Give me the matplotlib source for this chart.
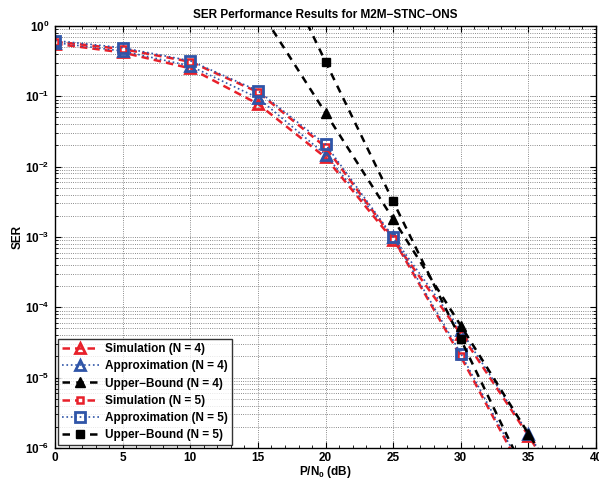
import numpy as np
import matplotlib
matplotlib.use('Agg')
import matplotlib.pyplot as plt
from matplotlib.ticker import FixedLocator, FuncFormatter, LogLocator, NullFormatter

plt.rcParams['font.family'] = ['Liberation Sans', 'DejaVu Sans']
plt.rcParams['font.weight'] = 'bold'
plt.rcParams['mathtext.fontset'] = 'custom'
plt.rcParams['mathtext.rm'] = 'Liberation Sans:bold'
plt.rcParams['mathtext.it'] = 'Liberation Sans:bold'
plt.rcParams['mathtext.bf'] = 'Liberation Sans:bold'

# P/N0 in dB
snr = [0, 5, 10, 15, 20, 25, 30, 35, 40]

sim_n4 = [0.56, 0.42, 0.25, 0.078, 0.0135, 9.0e-4, 4.2e-5, 1.5e-6, 4.5e-8]
approx_n4 = [0.58, 0.44, 0.27, 0.095, 0.0148, 1.0e-3, 4.7e-5, 1.6e-6, 5.0e-8]
upper_n4 = [np.nan, np.nan, np.nan, 1.86, 0.058, 1.8e-3, 5.5e-5, 1.6e-6, 4.8e-8]
sim_n5 = [0.60, 0.47, 0.31, 0.115, 0.019, 9.5e-4, 2.0e-5, 3.2e-7, np.nan]
approx_n5 = [0.62, 0.49, 0.32, 0.12, 0.0207, 1.0e-3, 2.2e-5, 3.5e-7, np.nan]
upper_n5 = [np.nan, np.nan, np.nan, 31.0, 0.31, 3.2e-3, 3.5e-5, 3.5e-7, np.nan]

red = '#e8202a'
blue = '#2f55a8'

fig = plt.figure(figsize=(5.99, 4.83), dpi=100)
ax = fig.add_axes([0.092, 0.0725, 0.903, 0.8737])

ax.plot(snr, sim_n4, color=red, ls='--', dashes=(3, 2), lw=1.8, marker='^', ms=7,
        mfc='none', mew=2, label='Simulation (N = 4)')
ax.plot(snr, approx_n4, color=blue, ls=':', lw=1.2, marker='^', ms=7,
        mfc='none', mew=2, label='Approximation (N = 4)')
ax.plot(snr, upper_n4, color='black', ls='--', dashes=(3, 2.5), lw=1.8, marker='^', ms=7,
        mfc='black', label='Upper\u2212Bound (N = 4)')
ax.plot(snr, sim_n5, color=red, ls='--', dashes=(3, 2), lw=1.8, marker='s', ms=5,
        mfc='white', mew=1.8, label='Simulation (N = 5)')
ax.plot(snr, approx_n5, color=blue, ls=':', lw=1.2, marker='s', ms=7,
        mfc='none', mew=2, label='Approximation (N = 5)')
ax.plot(snr, upper_n5, color='black', ls='--', dashes=(3, 2.5), lw=1.8, marker='s', ms=6,
        mfc='black', label='Upper\u2212Bound (N = 5)')

ax.set_yscale('log')
ax.set_xlim(0, 40)
ax.set_ylim(1e-6, 1)
ax.xaxis.set_major_locator(FixedLocator(range(0, 41, 5)))
ax.xaxis.set_minor_locator(FixedLocator(range(0, 41, 1)))
ax.yaxis.set_major_locator(LogLocator(base=10))
ax.yaxis.set_minor_locator(LogLocator(base=10, subs=np.arange(2, 10)))
ax.yaxis.set_minor_formatter(NullFormatter())
ax.yaxis.set_major_formatter(FuncFormatter(lambda v, p: r'$\mathbf{10^{%d}}$' % round(np.log10(v))))

ax.tick_params(which='both', direction='in', top=True, right=True, labelsize=8.5)
ax.tick_params(which='major', length=4)
ax.tick_params(which='minor', length=2)
ax.tick_params(axis='x', pad=3)
ax.tick_params(axis='y', pad=4)
for lab in ax.get_xticklabels():
    lab.set_fontweight('bold')

ax.grid(True, which='major', axis='x', ls=':', lw=0.6, color='#666666')
ax.grid(True, which='both', axis='y', ls=':', lw=0.6, color='#666666')
for s in ax.spines.values():
    s.set_linewidth(1.0)

ax.set_title('SER Performance Results for M2M\u2212STNC\u2212ONS', fontsize=8.5,
             fontweight='bold', pad=6)
ax.set_xlabel('P/N$_0$ (dB)', fontsize=8.5, fontweight='bold', labelpad=0)
ax.set_ylabel('SER', fontsize=8.5, fontweight='bold', labelpad=1)

leg = ax.legend(loc='lower left', fontsize=8.5, frameon=True, fancybox=False,
                edgecolor='black', borderpad=0.3, labelspacing=0.45,
                handlelength=3.2, handletextpad=0.5, borderaxespad=0.25)
leg.get_frame().set_linewidth(1.0)
for t in leg.get_texts():
    t.set_fontweight('bold')

fig.savefig('out.png', dpi=100)
